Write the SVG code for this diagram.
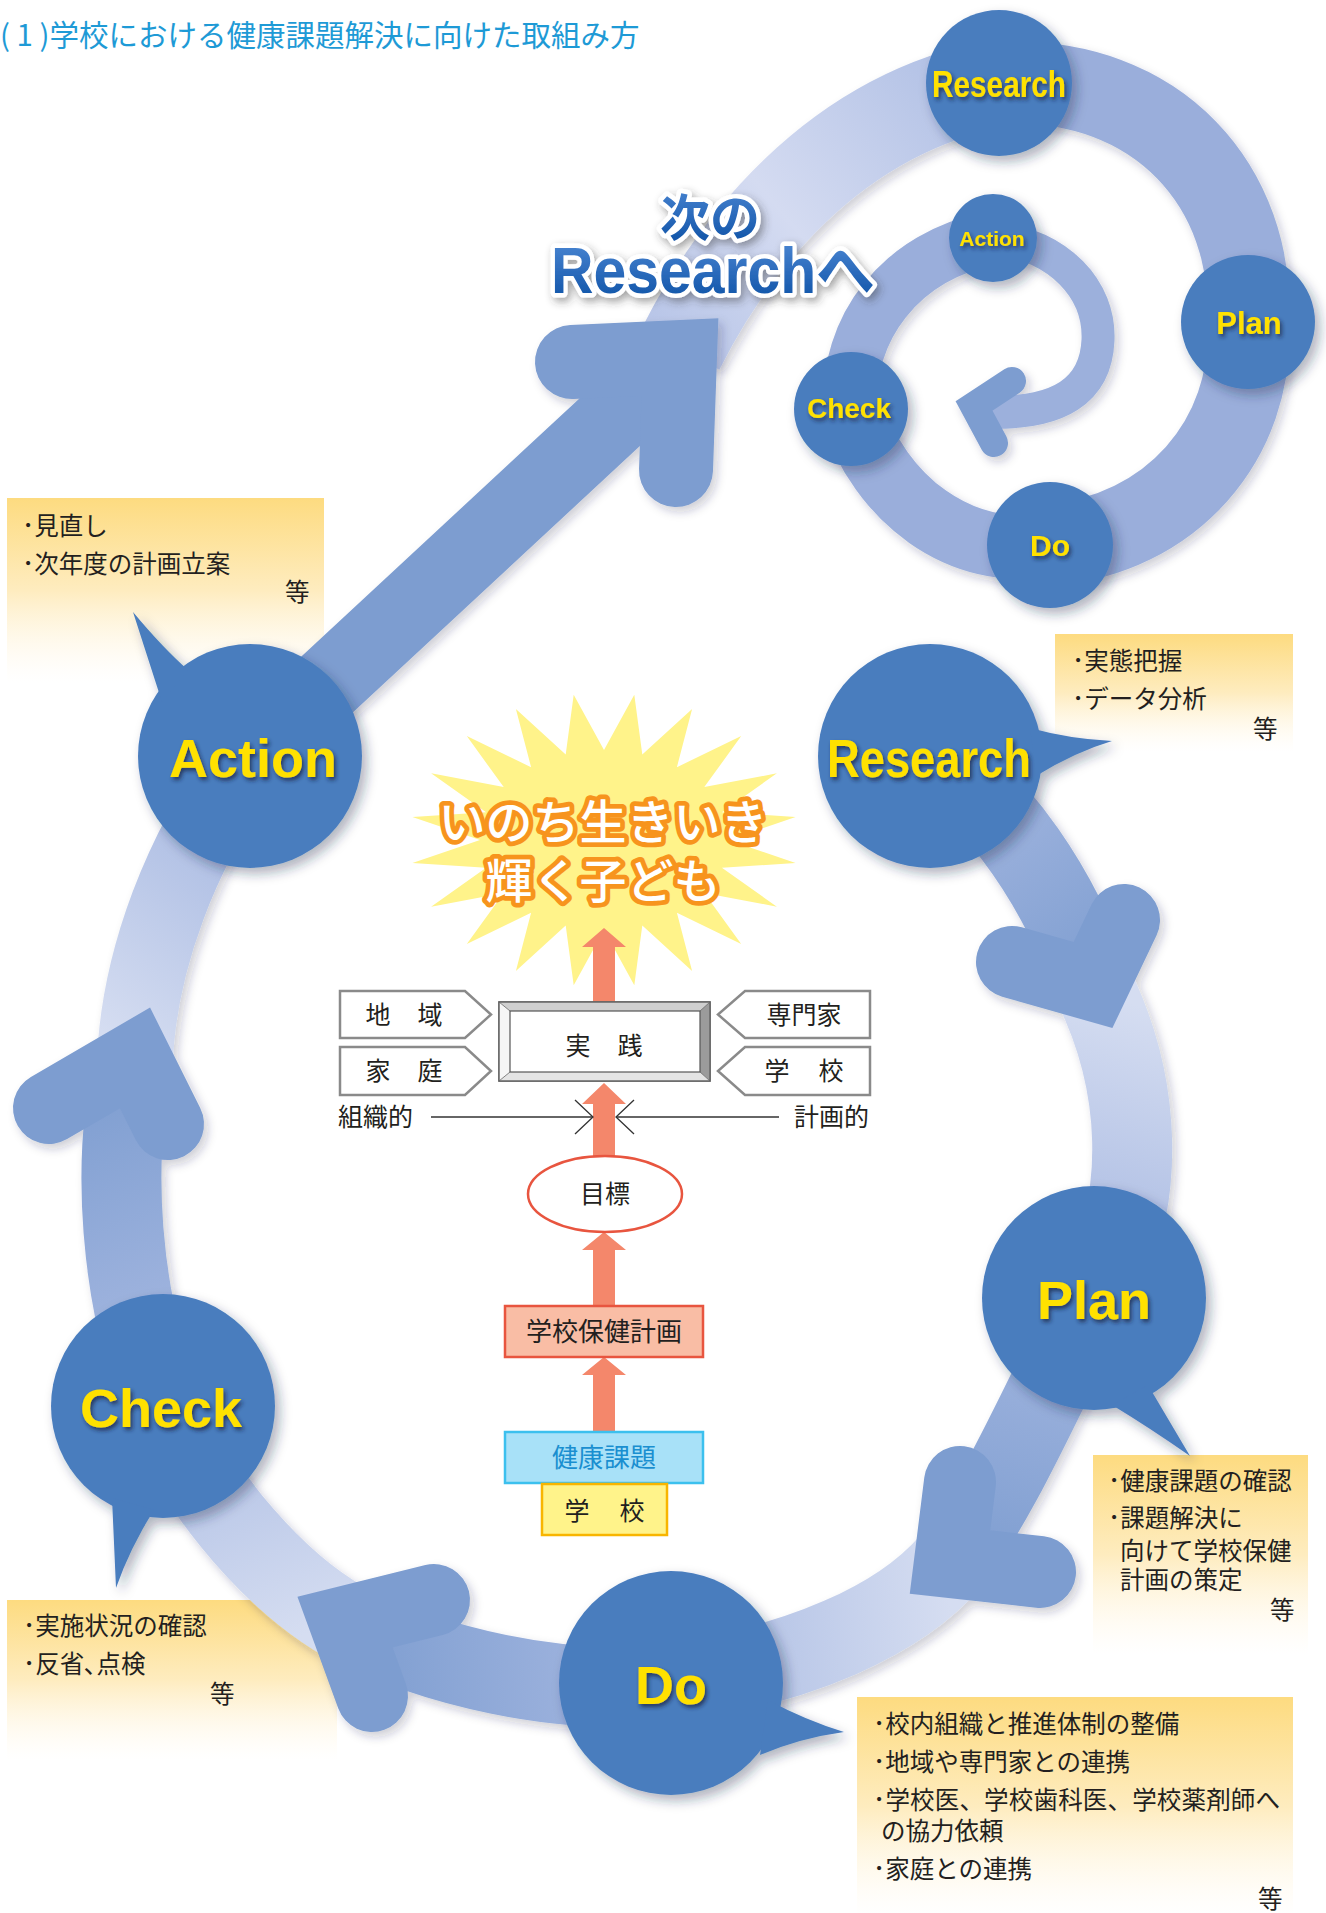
<svg xmlns="http://www.w3.org/2000/svg" width="1326" height="1913" viewBox="0 0 1326 1913">
<style>
.jp{font-family:"Noto Sans CJK JP","Noto Sans",sans-serif;fill:#231f20}
.co{font-size:24.5px}
.lbl{font-family:"Liberation Sans",Arial,sans-serif;font-weight:bold;fill:#ffe100}
.bub{fill:#4a7dbe}
.chev{fill:none;stroke:#7d9dd0;stroke-linecap:round;stroke-linejoin:miter;stroke-miterlimit:4}
.band{fill:none;stroke-linecap:butt}
.tag{fill:#fff;stroke:#8a8a8a;stroke-width:2.5}
.mid{font-size:25px;text-anchor:middle}
</style>
<defs>
<filter id="sh" x="-30%" y="-30%" width="170%" height="170%"><feDropShadow dx="5" dy="6" stdDeviation="6" flood-color="#1c2a48" flood-opacity="0.35"/></filter>
<filter id="bsh" x="-30%" y="-30%" width="170%" height="170%"><feDropShadow dx="4" dy="5" stdDeviation="5" flood-color="#1c2a48" flood-opacity="0.22"/></filter>
<filter id="tsh" x="-20%" y="-30%" width="140%" height="170%"><feDropShadow dx="2" dy="3" stdDeviation="2" flood-color="#1a2440" flood-opacity="0.75"/></filter>
<filter id="nsh" x="-20%" y="-30%" width="140%" height="170%"><feDropShadow dx="3" dy="4" stdDeviation="4" flood-color="#333" flood-opacity="0.45"/></filter>
<linearGradient id="cg" x1="0" y1="0" x2="0" y2="1"><stop offset="0" stop-color="#fddb80"/><stop offset="0.5" stop-color="#feecbf"/><stop offset="1" stop-color="#fff8e8" stop-opacity="0"/></linearGradient>
<linearGradient id="gS1" gradientUnits="userSpaceOnUse" x1="930" y1="756" x2="1100" y2="995"><stop offset="0" stop-color="#a9bae2"/><stop offset="1" stop-color="#7d9dd0"/></linearGradient>
<linearGradient id="gS2" gradientUnits="userSpaceOnUse" x1="1100" y1="995" x2="947" y2="1570"><stop offset="0" stop-color="#d5ddf1"/><stop offset="0.45" stop-color="#a9bae2"/><stop offset="1" stop-color="#7d9dd0"/></linearGradient>
<linearGradient id="gS3" gradientUnits="userSpaceOnUse" x1="947" y1="1570" x2="343" y2="1620"><stop offset="0" stop-color="#d5ddf1"/><stop offset="0.5" stop-color="#a6b8e1"/><stop offset="1" stop-color="#7d9dd0"/></linearGradient>
<linearGradient id="gS4" gradientUnits="userSpaceOnUse" x1="343" y1="1620" x2="135" y2="1057"><stop offset="0" stop-color="#d5ddf1"/><stop offset="0.5" stop-color="#a6b8e1"/><stop offset="1" stop-color="#7d9dd0"/></linearGradient>
<linearGradient id="gS5" gradientUnits="userSpaceOnUse" x1="135" y1="1057" x2="686" y2="351"><stop offset="0" stop-color="#d5ddf1"/><stop offset="0.3" stop-color="#a6b8e1"/><stop offset="0.42" stop-color="#7d9dd0"/><stop offset="1" stop-color="#7d9dd0"/></linearGradient>
<linearGradient id="gT1" gradientUnits="userSpaceOnUse" x1="680" y1="350" x2="999" y2="83"><stop offset="0" stop-color="#b9c6e8"/><stop offset="0.4" stop-color="#d4dbf1"/><stop offset="1" stop-color="#aebee4"/></linearGradient>
<linearGradient id="tg" x1="0" y1="0" x2="0" y2="1"><stop offset="0" stop-color="#4f8ad6"/><stop offset="1" stop-color="#0a4ea3"/></linearGradient>
</defs>

<rect width="1326" height="1913" fill="#fff"/>

<text id="title" x="0" y="46" font-family="Noto Sans CJK JP, sans-serif" font-size="29.5" fill="#1e9ad6">( 1 )学校における健康課題解決に向けた取組み方</text>

<!-- callout boxes -->
<g id="callout-action">
<rect x="7" y="498" width="317" height="185" fill="url(#cg)"/>
<text class="jp co" x="22" y="535">･見直し</text>
<text class="jp co" x="22" y="573">･次年度の計画立案</text>
<text class="jp co" x="285" y="601">等</text>
</g>
<g id="callout-research">
<rect x="1055" y="634" width="238" height="118" fill="url(#cg)"/>
<text class="jp co" x="1072" y="670">･実態把握</text>
<text class="jp co" x="1072" y="708">･データ分析</text>
<text class="jp co" x="1253" y="738">等</text>
</g>
<g id="callout-plan">
<rect x="1093" y="1455" width="215" height="200" fill="url(#cg)"/>
<text class="jp co" x="1108" y="1490">･健康課題の確認</text>
<text class="jp co" x="1108" y="1527">･課題解決に</text>
<text class="jp co" x="1120" y="1560">向けて学校保健</text>
<text class="jp co" x="1120" y="1589">計画の策定</text>
<text class="jp co" x="1270" y="1619">等</text>
</g>
<g id="callout-check">
<rect x="7" y="1600" width="330" height="160" fill="url(#cg)"/>
<text class="jp co" x="23" y="1635">･実施状況の確認</text>
<text class="jp co" x="23" y="1673">･反省､点検</text>
<text class="jp co" x="210" y="1703">等</text>
</g>
<g id="callout-do">
<rect x="857" y="1697" width="436" height="220" fill="url(#cg)"/>
<text class="jp co" x="873" y="1733">･校内組織と推進体制の整備</text>
<text class="jp co" x="873" y="1771">･地域や専門家との連携</text>
<text class="jp co" x="873" y="1809" textLength="407" lengthAdjust="spacing">･学校医、学校歯科医、学校薬剤師へ</text>
<text class="jp co" x="881" y="1840">の協力依頼</text>
<text class="jp co" x="873" y="1878">･家庭との連携</text>
<text class="jp co" x="1258" y="1908">等</text>
</g>

<!-- connectors: small (next) cycle bands -->
<g id="connectors-next" filter="url(#bsh)">
<path class="band" d="M680,350 C730,250 830,115 999,83" stroke="url(#gT1)" stroke-width="88"/>
<path class="band" d="M999,83 C1160,75 1255,190 1248,322 C1255,440 1170,535 1050,545" stroke="#9aaedb" stroke-width="82"/>
<path class="band" d="M1050,545 C960,560 880,500 851,409" stroke="#9aaedb" stroke-width="64"/>
<path class="band" d="M851,409 C845,330 900,255 993,238" stroke="#9aaedb" stroke-width="54"/>
<path class="band" d="M993,238 C1060,245 1100,290 1098,340 C1096,390 1060,415 985,412" stroke="#9cb0dc" stroke-width="33"/>
<polyline class="chev" points="1012,381 974,406 994,443" stroke="#9cb0dc" stroke-width="28"/>
</g>

<!-- connectors: main cycle bands -->
<g id="connectors-main" filter="url(#bsh)">
<path class="band" d="M930,756 C1000,800 1060,890 1093,985" stroke="url(#gS1)" stroke-width="80"/>
<path class="band" d="M1093,985 C1140,1080 1150,1200 1094,1298 C1050,1380 1000,1500 950,1562" stroke="url(#gS2)" stroke-width="80"/>
<path class="band" d="M950,1562 C900,1620 800,1665 671,1683 C560,1698 430,1665 345,1622" stroke="url(#gS3)" stroke-width="80"/>
<path class="band" d="M345,1622 C280,1585 200,1500 163,1406 C120,1300 110,1160 135,1058" stroke="url(#gS4)" stroke-width="80"/>
<path class="band" d="M135,1058 C140,960 180,850 250,756 L680,357" stroke="url(#gS5)" stroke-width="76"/>
<polyline class="chev" points="1012,962 1093,985 1124,920" stroke-width="72"/>
<polyline class="chev" points="960,1482 950,1562 1040,1572" stroke-width="72"/>
<polyline class="chev" points="434,1600 345,1622 372,1696" stroke-width="72"/>
<polyline class="chev" points="49,1108 135,1058 168,1124" stroke-width="72"/>
<polyline class="chev" points="572,362 680,357 676,470" stroke-width="74"/>
</g>

<!-- center diagram -->
<g id="star">
<polygon fill="#fff38a" points="728,840 795.6,863 721.9,867.8 776.9,906.7 704.3,892.9 741.2,943.9 676.9,912.8 692.1,971 642.3,925.6 634.3,985.2 604,930 573.7,985.2 565.7,925.6 515.9,971 531.1,912.8 466.8,943.9 503.7,892.9 431.1,906.7 486.1,867.8 412.4,863 480,840 412.4,817 486.1,812.2 431.1,773.3 503.7,787.1 466.8,736.1 531.1,767.2 515.9,709 565.7,754.4 573.7,694.8 604,750 634.3,694.8 642.3,754.4 692.1,709 676.9,767.2 741.2,736.1 704.3,787.1 776.9,773.3 721.9,812.2 795.6,817"/>
<g font-family="Noto Sans CJK JP, sans-serif" font-size="47" font-weight="500" fill="#fff" stroke="#f7941d" stroke-width="9.5" stroke-linejoin="round" paint-order="stroke" text-anchor="middle">
<text x="603" y="839">いのち生きいき</text>
<text x="603" y="898">輝く子ども</text>
</g>
</g>

<g id="arrows-orange" fill="#f4876b">
<polygon points="593,1002 593,947 582,947 604,928 626,947 615,947 615,1002"/>
<polygon points="593,1156 593,1104 582,1104 604,1083 626,1104 615,1104 615,1156"/>
<polygon points="593,1306 593,1250 582,1250 604,1232 626,1250 615,1250 615,1306"/>
<polygon points="593,1432 593,1375 582,1375 604,1357 626,1375 615,1375 615,1432"/>
</g>

<g id="jissen">
<rect x="499" y="1002" width="211" height="79" fill="#fff" stroke="#666" stroke-width="1.5"/>
<polygon points="499,1002 710,1002 700,1011 510,1011" fill="#cfcfcf"/>
<polygon points="710,1002 710,1081 700,1072 700,1011" fill="#9b9b9b"/>
<polygon points="499,1081 710,1081 700,1072 510,1072" fill="#e4e4e4"/>
<polygon points="499,1002 510,1011 510,1072 499,1081" fill="#f6f6f6"/>
<rect x="499" y="1002" width="211" height="79" fill="none" stroke="#666" stroke-width="1.5"/>
<rect x="510" y="1011" width="190" height="61" fill="#fff" stroke="#555" stroke-width="1.2"/>
<path d="M499,1002 L510,1011 M710,1002 L700,1011 M710,1081 L700,1072 M499,1081 L510,1072" stroke="#666" stroke-width="0.8"/>
<text class="jp" x="578" y="1055" font-size="25" text-anchor="middle">実</text>
<text class="jp" x="630" y="1055" font-size="25" text-anchor="middle">践</text>
</g>

<g id="tag-chiiki">
<polygon class="tag" points="340,991 465,991 491,1014.5 465,1038 340,1038"/>
<text class="jp mid" x="378" y="1024">地</text><text class="jp mid" x="430" y="1024">域</text>
</g>
<g id="tag-katei">
<polygon class="tag" points="340,1047 465,1047 491,1071 465,1095 340,1095"/>
<text class="jp mid" x="378" y="1080">家</text><text class="jp mid" x="430" y="1080">庭</text>
</g>
<g id="tag-senmonka">
<polygon class="tag" points="870,991 745,991 718,1014.5 745,1038 870,1038"/>
<text class="jp mid" x="804" y="1024">専門家</text>
</g>
<g id="tag-gakkou">
<polygon class="tag" points="870,1047 745,1047 718,1071 745,1095 870,1095"/>
<text class="jp mid" x="777" y="1080">学</text><text class="jp mid" x="831" y="1080">校</text>
</g>

<g id="soshiki-keikaku" stroke="#333" stroke-width="1.3" fill="none">
<line x1="431" y1="1117" x2="593" y2="1117"/>
<polyline points="575,1100 593,1117 575,1134"/>
<line x1="779" y1="1117" x2="616" y2="1117"/>
<polyline points="634,1100 616,1117 634,1134"/>
</g>
<text class="jp" x="338" y="1126" font-size="25">組織的</text>
<text class="jp" x="794" y="1126" font-size="25">計画的</text>

<g id="mokuhyou">
<ellipse cx="605" cy="1194" rx="77" ry="38" fill="#fff" stroke="#e8553f" stroke-width="2.5"/>
<text class="jp mid" x="605" y="1203">目標</text>
</g>
<g id="hokenkeikaku">
<rect x="505" y="1306" width="198" height="51" fill="#f9bda5" stroke="#e8553f" stroke-width="2.5"/>
<text class="jp" x="604" y="1341" font-size="26" text-anchor="middle">学校保健計画</text>
</g>
<g id="kenkoukadai">
<rect x="505" y="1432" width="198" height="51" fill="#a8e1f8" stroke="#3cc0ee" stroke-width="2.5"/>
<text x="604" y="1467" font-family="Noto Sans CJK JP, sans-serif" font-size="26" fill="#1a8fd0" text-anchor="middle">健康課題</text>
</g>
<g id="gakkou-box">
<rect x="542" y="1484" width="125" height="51" fill="#fff38a" stroke="#f8b500" stroke-width="2.5"/>
<text class="jp mid" x="577" y="1520">学</text><text class="jp mid" x="632" y="1520">校</text>
</g>

<!-- main cycle nodes -->
<g id="node-action">
<g filter="url(#sh)"><circle class="bub" cx="250" cy="756" r="112"/><path class="bub" d="M162,702 L133,612 Q163,648 188,670 Z"/></g>
<text class="lbl" x="253" y="777" font-size="54" text-anchor="middle" filter="url(#tsh)">Action</text>
</g>
<g id="node-research">
<g filter="url(#sh)"><circle class="bub" cx="930" cy="756" r="112"/><path class="bub" d="M1030,728 Q1070,739 1112,741 Q1075,752 1036,776 Z"/></g>
<text class="lbl" x="827" y="777" font-size="54" textLength="204" lengthAdjust="spacingAndGlyphs" filter="url(#tsh)">Research</text>
</g>
<g id="node-plan">
<g filter="url(#sh)"><circle class="bub" cx="1094" cy="1298" r="112"/><path class="bub" d="M1148,1385 L1190,1456 Q1150,1428 1112,1405 Z"/></g>
<text class="lbl" x="1094" y="1319" font-size="54" text-anchor="middle" filter="url(#tsh)">Plan</text>
</g>
<g id="node-do">
<g filter="url(#sh)"><circle class="bub" cx="671" cy="1683" r="112"/><path class="bub" d="M768,1700 Q805,1720 844,1732 Q800,1738 760,1755 Z"/></g>
<text class="lbl" x="671" y="1704" font-size="54" text-anchor="middle" filter="url(#tsh)">Do</text>
</g>
<g id="node-check">
<g filter="url(#sh)"><circle class="bub" cx="163" cy="1406" r="112"/><path class="bub" d="M112,1498 L116,1588 Q130,1548 154,1510 Z"/></g>
<text class="lbl" x="161" y="1427" font-size="54" text-anchor="middle" filter="url(#tsh)">Check</text>
</g>

<!-- next cycle nodes -->
<g id="next-research">
<circle class="bub" cx="999" cy="83" r="73" filter="url(#sh)"/>
<text class="lbl" x="932" y="97" font-size="36" textLength="134" lengthAdjust="spacingAndGlyphs" filter="url(#tsh)">Research</text>
</g>
<g id="next-plan">
<circle class="bub" cx="1248" cy="322" r="67" filter="url(#sh)"/>
<text class="lbl" x="1249" y="334" font-size="31" text-anchor="middle" filter="url(#tsh)">Plan</text>
</g>
<g id="next-do">
<circle class="bub" cx="1050" cy="545" r="63" filter="url(#sh)"/>
<text class="lbl" x="1050" y="556" font-size="30" text-anchor="middle" filter="url(#tsh)">Do</text>
</g>
<g id="next-check">
<circle class="bub" cx="851" cy="409" r="57" filter="url(#sh)"/>
<text class="lbl" x="849" y="418" font-size="28" text-anchor="middle" filter="url(#tsh)">Check</text>
</g>
<g id="next-action">
<circle class="bub" cx="993" cy="238" r="44" filter="url(#sh)"/>
<text class="lbl" x="992" y="246" font-size="21" text-anchor="middle" filter="url(#tsh)">Action</text>
</g>

<g id="next-research-label" filter="url(#nsh)" font-weight="bold" fill="url(#tg)" stroke="#fff" stroke-width="9" stroke-linejoin="round" paint-order="stroke">
<text x="710" y="236" font-family="Noto Sans CJK JP, sans-serif" font-size="50" text-anchor="middle">次の</text>
<text x="551" y="293" font-family="Liberation Sans, Noto Sans CJK JP, sans-serif" font-size="64" textLength="324" lengthAdjust="spacingAndGlyphs">Researchへ</text>
</g>
</svg>
